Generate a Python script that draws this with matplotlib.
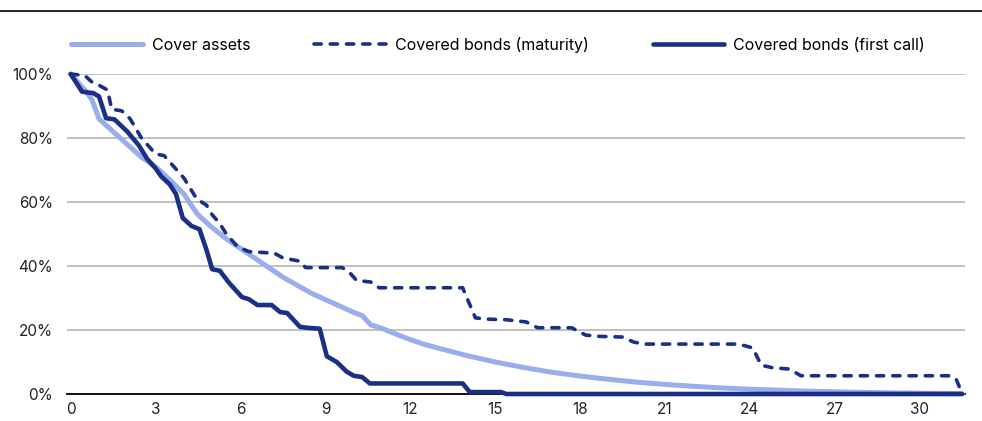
import matplotlib
matplotlib.use("Agg")
import matplotlib.pyplot as plt
from matplotlib.lines import Line2D
from matplotlib.ticker import PercentFormatter

plt.rcParams['font.family'] = ['Inter', 'DejaVu Sans']

# Cover assets
cover_x = [0, 0.5, 0.75, 1.0, 1.5, 2, 2.5, 3, 3.5, 4, 4.3, 4.5, 5, 5.5, 6, 6.5, 7, 7.5, 8,
           8.5, 9, 9.5, 10, 10.3, 10.6, 11, 11.5, 12, 12.5, 13, 14, 15, 16, 17, 18, 19, 20,
           21, 22, 23, 24, 25, 26, 27, 28, 29, 30, 31, 31.5]
cover_y = [100, 95, 92, 86, 82, 78, 74, 71, 67, 62.5, 58.5, 56, 52, 48.5, 45.5, 42.5, 39.5, 36.5, 34,
           31.5, 29.5, 27.5, 25.5, 24.5, 21.6, 20.5, 18.7, 17, 15.5, 14.3, 12, 10, 8.3, 6.8, 5.6, 4.6, 3.7,
           3.0, 2.4, 1.9, 1.5, 1.2, 0.9, 0.7, 0.5, 0.35, 0.25, 0.15, 0.1]

# Covered bonds (maturity)
mat_x = [0, 0.5, 0.75, 1.0, 1.3, 1.45, 1.8, 2.1, 2.5, 2.75, 3.0, 3.3, 3.5, 4.0, 4.45, 4.8, 5.0,
         5.25, 5.5, 5.9, 6.3, 7.2, 7.5, 8.1, 8.3, 9.6, 9.9, 10.1, 10.6, 10.9, 13.85, 14.3, 14.7,
         15.4, 16.1, 16.5, 17.7, 18.2, 18.7, 19.5, 19.9, 20.3, 23.6, 24.1, 24.4, 24.8, 25.4, 25.8,
         31.1, 31.3, 31.5]
mat_y = [100, 99.5, 97.5, 96.5, 95, 89, 88.5, 86, 80, 77.5, 75, 74.5, 72.5, 67.5, 61, 59, 56,
         53.5, 50, 46, 44.5, 44, 42.5, 41.5, 39.5, 39.5, 37.5, 35.5, 35, 33.2, 33.2, 23.8, 23.4,
         23.2, 22.5, 20.7, 20.7, 18.4, 18.0, 17.8, 16.2, 15.6, 15.6, 14.4, 9, 8.2, 7.8, 5.7,
         5.7, 4.4, 0]

# Covered bonds (first call)
call_x = [0, 0.4, 0.8, 1.0, 1.25, 1.55, 2.0, 2.4, 2.7, 3.0, 3.2, 3.5, 3.72, 3.96, 4.27, 4.55,
          4.8, 5.0, 5.27, 5.6, 6.05, 6.3, 6.6, 7.1, 7.4, 7.65, 8.1, 8.35, 8.8, 9.05, 9.4, 9.75,
          10.0, 10.3, 10.57, 13.85, 14.1, 15.2, 15.4, 31.5]
call_y = [100, 94.5, 94, 93, 86.2, 85.8, 82, 77.8, 73.5, 70.5, 68, 65.5, 62.5, 55, 52.5, 51.5,
          45, 39, 38.5, 34.7, 30.3, 29.6, 27.8, 27.8, 25.6, 25.3, 21, 20.7, 20.4, 11.8, 10, 7,
          5.7, 5.3, 3.3, 3.3, 0.6, 0.6, 0, 0]

labels = ["Cover assets", "Covered bonds (maturity)", "Covered bonds (first call)"]
x_ticks = [0, 3, 6, 9, 12, 15, 18, 21, 24, 27, 30]
y_ticks = [0, 20, 40, 60, 80, 100]

dark = "#1b2f86"
light = "#9aaded"
dash_pattern = (0, (2.0, 2.5))

W, H = 982, 421
fig = plt.figure(figsize=(W / 100, H / 100), dpi=100)
ax = fig.add_axes([67 / W, 27 / H, (965 - 67) / W, (394 - 74) / H])

ax.plot(cover_x, cover_y, color=light, lw=3.6, solid_joinstyle='round', solid_capstyle='round',
        clip_on=False, zorder=3)
ax.plot(mat_x, mat_y, color=dark, lw=2.6, linestyle=dash_pattern, dash_capstyle='round',
        dash_joinstyle='round', clip_on=False, zorder=4)
ax.plot(call_x, call_y, color=dark, lw=3.3, solid_joinstyle='round', solid_capstyle='round',
        clip_on=False, zorder=5)

ax.set_xlim(-0.13, 31.6)
ax.set_ylim(0, 100)
ax.set_xticks(x_ticks)
ax.set_yticks(y_ticks)
ax.yaxis.set_major_formatter(PercentFormatter(decimals=0))
ax.tick_params(length=0, labelsize=11, colors="#222222")
ax.tick_params(axis='y', pad=10)
ax.tick_params(axis='x', pad=6)
ax.grid(axis='y', color="#b0b0b0", lw=1.1)
ax.set_axisbelow(True)
for s in ['top', 'right', 'left']:
    ax.spines[s].set_visible(False)
ax.spines['bottom'].set_color('black')
ax.spines['bottom'].set_linewidth(1.3)
ax.spines['bottom'].set_zorder(2)

handles = [Line2D([], [], color=light, lw=3.6, solid_capstyle='round'),
           Line2D([], [], color=dark, lw=2.6, linestyle=dash_pattern, dash_capstyle='round'),
           Line2D([], [], color=dark, lw=3.3, solid_capstyle='round')]
fig.legend(handles, labels, loc='center', bbox_to_anchor=(498 / W, 1 - 45 / H), ncol=3,
           frameon=False, fontsize=11.5, handlelength=4.5, columnspacing=4.0, handletextpad=0.55)

fig.add_artist(Line2D([0, 1], [1 - 11 / H, 1 - 11 / H], color='black', lw=1.2,
                      transform=fig.transFigure))

fig.savefig("out.png", dpi=100)
